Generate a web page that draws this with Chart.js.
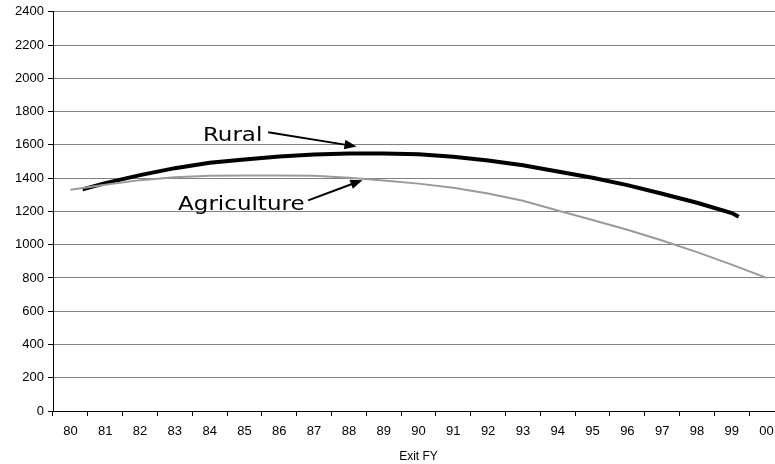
<!DOCTYPE html>
<html>
<head>
<meta charset="utf-8">
<script src="https://cdn.jsdelivr.net/npm/chart.js@4/dist/chart.umd.min.js"></script>
<style>
  html, body { margin: 0; padding: 0; background: #fff; overflow: hidden; }
  #wrap { position: absolute; left: 0; top: 0; width: 790px; height: 464px; }
</style>
</head>
<body>
<div id="wrap"><canvas id="chart"></canvas></div>
<script>
// exit fiscal years on the x axis
const years = ['80', '81', '82', '83', '84', '85', '86', '87', '88', '89', '90',
  '91', '92', '93', '94', '95', '96', '97', '98', '99', '00'];

// agriculture, one value per year
const agriculture = [1330, 1360, 1388, 1405, 1414, 1416, 1416, 1414, 1403, 1386, 1367,
  1342, 1308, 1264, 1205, 1148, 1090, 1025, 955, 880, 800];

// rural line starts a bit after 80 and stops a bit after 99
const ruralPos = [0.35, 1, 2, 3, 4, 5, 6, 7, 8, 9, 10, 11, 12, 13, 14, 15, 16, 17, 18, 19, 19.2];
const rural = [1332, 1370, 1418, 1460, 1492, 1512, 1530, 1542, 1548, 1548, 1544,
  1528, 1506, 1478, 1440, 1402, 1358, 1306, 1252, 1190, 1168];

const yTicks = [0, 200, 400, 600, 800, 1000, 1200, 1400, 1600, 1800, 2000, 2200, 2400];

// callout labels with arrows, placed in data units
const notes = [
  { text: 'Rural', at: [4.66, 1656], from: [5.68, 1676], to: [8.22, 1590] },
  { text: 'Agriculture', at: [4.91, 1242], from: [6.83, 1266], to: [8.39, 1388] }
];

const calloutPlugin = {
  id: 'callouts',
  afterDatasetsDraw(chart) {
    const ctx = chart.ctx;
    const xs = chart.scales.x;
    const ys = chart.scales.y;
    notes.forEach(n => {
      ctx.save();
      ctx.fillStyle = '#000';
      ctx.font = '20px "DejaVu Sans"';
      ctx.textAlign = 'center';
      ctx.textBaseline = 'middle';
      ctx.translate(xs.getPixelForValue(n.at[0]), ys.getPixelForValue(n.at[1]));
      ctx.scale(1.15, 1);
      ctx.fillText(n.text, 0, 0);
      ctx.restore();

      const x1 = xs.getPixelForValue(n.from[0]);
      const y1 = ys.getPixelForValue(n.from[1]);
      const x2 = xs.getPixelForValue(n.to[0]);
      const y2 = ys.getPixelForValue(n.to[1]);
      const ang = Math.atan2(y2 - y1, x2 - x1);
      const head = 13;
      ctx.save();
      ctx.strokeStyle = '#000';
      ctx.fillStyle = '#000';
      ctx.lineWidth = 2;
      ctx.beginPath();
      ctx.moveTo(x1, y1);
      ctx.lineTo(x2 - Math.cos(ang) * head * 0.8, y2 - Math.sin(ang) * head * 0.8);
      ctx.stroke();
      ctx.beginPath();
      ctx.moveTo(x2, y2);
      ctx.lineTo(x2 - head * Math.cos(ang - 0.38), y2 - head * Math.sin(ang - 0.38));
      ctx.lineTo(x2 - head * Math.cos(ang + 0.38), y2 - head * Math.sin(ang + 0.38));
      ctx.closePath();
      ctx.fill();
      ctx.restore();
    });
  }
};

new Chart(document.getElementById('chart').getContext('2d'), {
  type: 'line',
  data: {
    datasets: [
      {
        label: 'Agriculture',
        data: agriculture.map((v, i) => ({ x: i, y: v })),
        borderColor: '#9a9a9a',
        borderWidth: 2,
        pointRadius: 0,
        tension: 0
      },
      {
        label: 'Rural',
        data: rural.map((v, i) => ({ x: ruralPos[i], y: v })),
        borderColor: '#000000',
        borderWidth: 4,
        pointRadius: 0,
        tension: 0
      }
    ]
  },
  options: {
    responsive: true,
    maintainAspectRatio: false,
    animation: false,
    layout: { padding: { top: 11, right: 6, left: 0, bottom: 0 } },
    plugins: {
      legend: { display: false },
      tooltip: { enabled: false }
    },
    scales: {
      x: {
        type: 'linear',
        min: -0.5,
        max: 20.5,
        afterBuildTicks: scale => {
          scale.ticks = years.map((y, i) => ({ value: i }));
        },
        afterFit: scale => { scale.height = 53; },
        ticks: {
          color: '#000',
          font: { family: '"Liberation Sans", Arial', size: 13 },
          padding: 8,
          maxRotation: 0,
          autoSkip: false,
          callback: (v, i) => years[i]
        },
        grid: {
          offset: true,
          drawOnChartArea: false,
          tickLength: 5,
          tickColor: '#000'
        },
        border: { color: '#000', width: 1 },
        title: {
          display: true,
          text: 'Exit FY',
          color: '#000',
          font: { family: '"Liberation Sans", Arial', size: 12 },
          padding: { top: 5, bottom: 0 }
        }
      },
      y: {
        min: 0,
        max: 2400,
        afterBuildTicks: scale => {
          scale.ticks = yTicks.map(v => ({ value: v }));
        },
        afterFit: scale => { scale.width = 53; },
        ticks: {
          color: '#000',
          font: { family: '"Liberation Sans", Arial', size: 13 },
          padding: 4,
          callback: v => String(v)
        },
        grid: {
          color: '#808080',
          tickColor: '#000',
          tickLength: 5
        },
        border: { color: '#000', width: 1 }
      }
    }
  },
  plugins: [calloutPlugin]
});
</script>
</body>
</html>
